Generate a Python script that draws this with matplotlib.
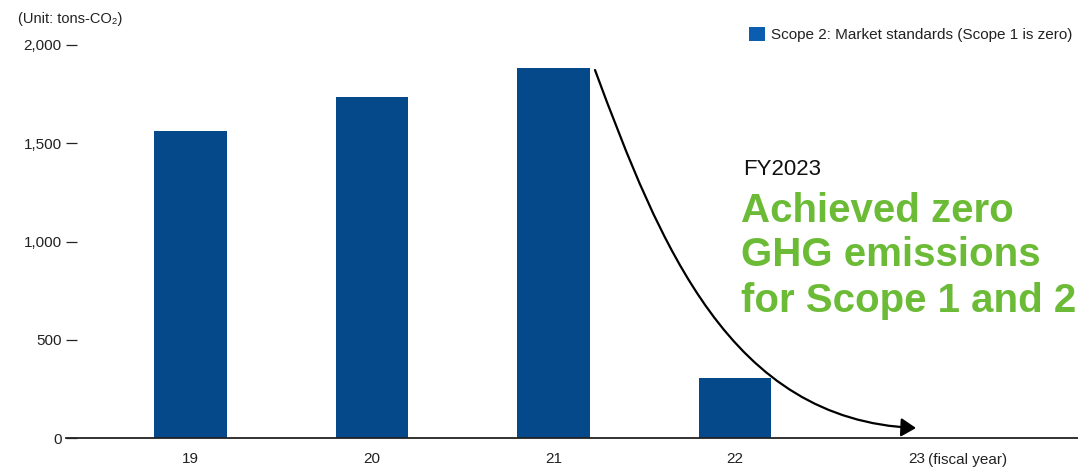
import matplotlib
matplotlib.use("Agg")
import matplotlib.pyplot as plt
from matplotlib.path import Path
from matplotlib.patches import FancyArrowPatch

plt.rcParams['font.family'] = ['Liberation Sans', 'DejaVu Sans']

# ---- data ----
categories = ["19", "20", "21", "22", "23"]
values = [1560, 1735, 1881, 304, 0]
yticks = [0, 500, 1000, 1500, 2000]
ytick_labels = ["0", "500", "1,000", "1,500", "2,000"]
legend_label = "Scope 2: Market standards (Scope 1 is zero)"
unit_label = "(Unit: tons-CO\u2082)"
fy_label = "FY2023"
headline = ["Achieved zero", "GHG emissions", "for Scope 1 and 2"]

BAR = "#05498a"
LEG = "#0b5db0"
GREEN = "#6cbb36"

W, H = 1078, 468
fig = plt.figure(figsize=(W / 100, H / 100), dpi=100)

ax_l, ax_r, ax_b, ax_t = 66, 1078, 438, 45
ax = fig.add_axes([ax_l / W, 1 - ax_b / H, (ax_r - ax_l) / W, (ax_b - ax_t) / H])

x = list(range(len(categories)))
bars = ax.bar(x, values, width=0.4, color=BAR, label=legend_label, zorder=2)

# x-range so that category centers land where the reference has them
c0, step = 190.5, 181.5
ax.set_xlim((ax_l - c0) / step, (ax_r - c0) / step)
ax.set_ylim(0, 2000)

ax.set_yticks(yticks)
ax.set_yticklabels(ytick_labels, fontsize=11, color="#222222")
ax.tick_params(axis="y", direction="in", length=8, width=0.9, pad=3, color="#222222")
ax.set_xticks(x)
ax.set_xticklabels(categories, fontsize=11, color="#222222")
ax.tick_params(axis="x", length=0, pad=10)

for s in ["top", "right", "left"]:
    ax.spines[s].set_visible(False)
ax.spines["bottom"].set_linewidth(1.3)
ax.spines["bottom"].set_color("#222222")

# "(fiscal year)" next to the last tick label
fig.text(928 / W, 1 - 460 / H, "(fiscal year)", fontsize=11, color="#222222",
         va="center", ha="left")

# unit label
fig.text(18 / W, 1 - 19 / H, unit_label, fontsize=10.5, color="#222222",
         va="center", ha="left")

# legend
leg = ax.legend(loc="upper right", bbox_to_anchor=(1072 / W, 1 - 27 / H),
                bbox_transform=fig.transFigure, frameon=False, fontsize=11,
                handlelength=1.0, handleheight=1.0, handletextpad=0.4,
                borderpad=0, borderaxespad=0)
for h in leg.legend_handles:
    h.set_facecolor(LEG)
for t in leg.get_texts():
    t.set_color("#222222")

# annotation text
fig.text(743 / W, 1 - 175 / H, fy_label, fontsize=16, color="#111111",
         ha="left", va="baseline")
baselines = [222, 266, 312]
for line, b in zip(headline, baselines):
    fig.text(741 / W, 1 - b / H, line, fontsize=29, fontweight="bold",
             color=GREEN, ha="left", va="baseline")

# curved arrow (pixel anchors converted to data coordinates)
def px2data(px, py):
    return ((px - c0) / step, (ax_b - py) / ((ax_b - ax_t) / 2000))

verts = [px2data(595, 70), px2data(660, 245), px2data(730, 420), px2data(916, 428)]
codes = [Path.MOVETO, Path.CURVE4, Path.CURVE4, Path.CURVE4]
arrow = FancyArrowPatch(path=Path(verts, codes), transform=ax.transData,
                        arrowstyle="-|>,head_length=0.45,head_width=0.28",
                        mutation_scale=20, lw=1.6, color="black", zorder=3,
                        clip_on=False)
ax.add_patch(arrow)

fig.savefig("out.png", dpi=100)
